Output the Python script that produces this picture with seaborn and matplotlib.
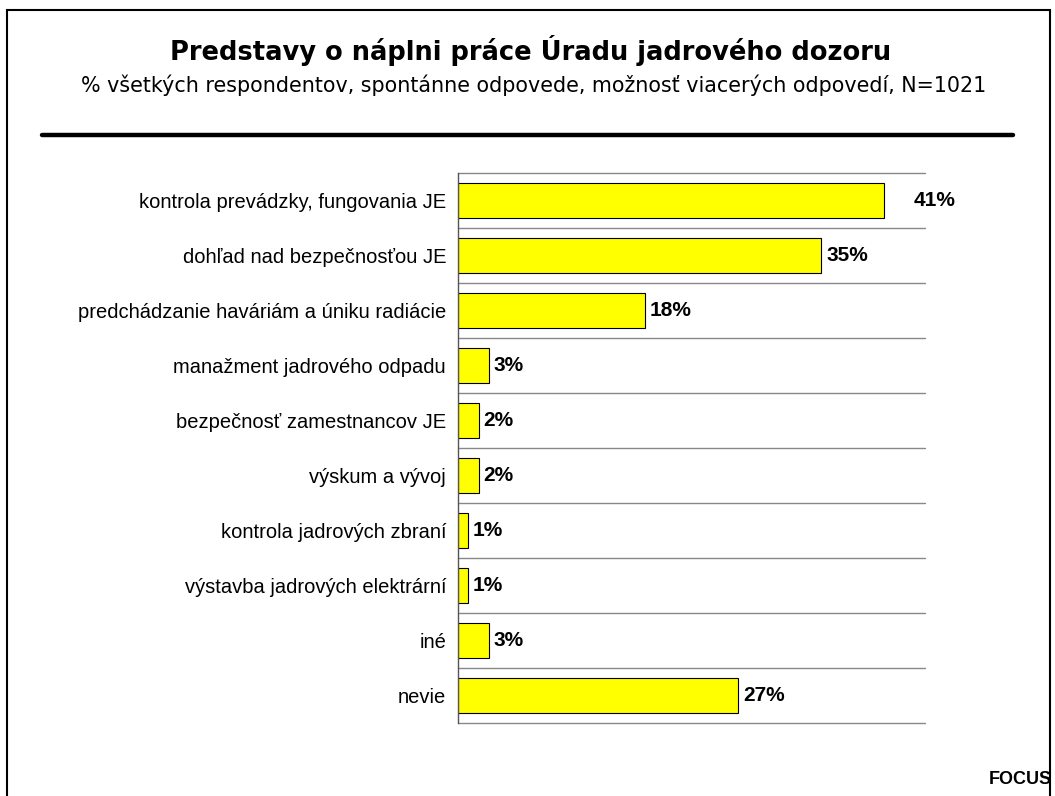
import matplotlib
matplotlib.use("Agg")
import matplotlib.pyplot as plt
import seaborn as sns
import pandas as pd
from matplotlib.patches import Rectangle
from matplotlib.lines import Line2D

# data
categories = [
    "kontrola prevádzky, fungovania JE",
    "dohľad nad bezpečnosťou JE",
    "predchádzanie haváriám a úniku radiácie",
    "manažment jadrového odpadu",
    "bezpečnosť zamestnancov JE",
    "výskum a vývoj",
    "kontrola jadrových zbraní",
    "výstavba jadrových elektrární",
    "iné",
    "nevie",
]
values = [41, 35, 18, 3, 2, 2, 1, 1, 3, 27]
value_labels = ["41%", "35%", "18%", "3%", "2%", "2%", "1%", "1%", "3%", "27%"]

df = pd.DataFrame({"kategoria": categories, "hodnota": values})

sns.set_style("white")
plt.rcParams["font.family"] = ["Liberation Sans", "DejaVu Sans"]
plt.rcParams["text.color"] = "black"
plt.rcParams["ytick.color"] = "black"

fig = plt.figure(figsize=(10.55, 7.96), dpi=100)
ax = fig.add_axes([0.434, 0.0917, 0.443, 0.691])

sns.barplot(data=df, x="hodnota", y="kategoria", orient="h", color="#FFFF00",
            edgecolor="black", linewidth=0.8, width=0.65, saturation=1, ax=ax)

ax.set_xlim(0, 45)
ax.set_ylim(9.5, -0.5)
ax.set_xlabel("")
ax.set_ylabel("")
ax.set_xticks([])
ax.tick_params(axis="y", length=0, pad=8.5, labelsize=14.5, labelcolor="black")

# separators between categories
for i in range(len(categories) + 1):
    ax.axhline(i - 0.5, color="#888888", linewidth=1, clip_on=False, zorder=0)

for s in ["top", "right", "bottom"]:
    ax.spines[s].set_visible(False)
ax.spines["left"].set_color("#555555")
ax.spines["left"].set_linewidth(1)

# value labels
for i, (v, lab) in enumerate(zip(values, value_labels)):
    x = v + 0.45
    if v == max(values):
        x = v + 2.9
    ax.text(x, i, lab, va="center", ha="left", fontsize=15, fontweight="bold")

# titles
fig.text(0.503, 0.937, "Predstavy o náplni práce Úradu jadrového dozoru",
         ha="center", va="center", fontsize=18.5, fontweight="bold", family="DejaVu Sans")
fig.text(0.506, 0.893, "% všetkých respondentov, spontánne odpovede, možnosť viacerých odpovedí, N=1021",
         ha="center", va="center", fontsize=14.9, family="DejaVu Sans")

# thick rule under the header
fig.add_artist(Line2D([42 / 1055, 1013 / 1055], [1 - 135 / 796, 1 - 135 / 796],
                      color="black", linewidth=3.2, transform=fig.transFigure))

# outer frame
fig.add_artist(Rectangle((7 / 1055, -0.1), 1043 / 1055, 1.1 - 10 / 796, fill=False,
                         edgecolor="black", linewidth=1.5, transform=fig.transFigure))

fig.text(1052 / 1055, 1 - 779 / 796, "FOCUS", ha="right", va="center",
         fontsize=13, fontweight="bold")

fig.savefig("out.png", dpi=100)
